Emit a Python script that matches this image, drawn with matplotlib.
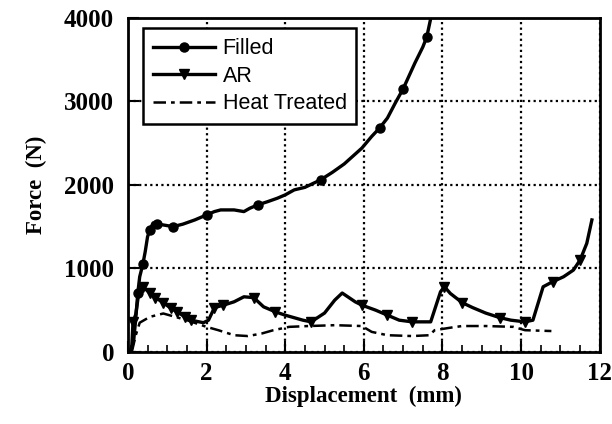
import numpy as np
import matplotlib
matplotlib.use("Agg")
import matplotlib.pyplot as plt
from matplotlib.ticker import MultipleLocator

# Filled
filled_x = [0.05, 0.10, 0.15, 0.20, 0.25, 0.30, 0.38, 0.44, 0.50, 0.56, 0.64, 0.75, 0.90, 1.15,
            1.40, 1.70, 2.00, 2.20, 2.36, 2.70, 2.95, 3.10, 3.30, 3.56, 3.80, 4.00, 4.23,
            4.50, 4.90, 5.20, 5.50, 5.95, 6.20, 6.40, 6.60, 6.80, 7.00, 7.30, 7.50, 7.60, 7.70]
filled_y = [0, 50, 150, 400, 700, 900, 1050, 1200, 1380, 1460, 1545, 1530, 1520, 1500,
            1530, 1580, 1640, 1680, 1700, 1700, 1680, 1720, 1760, 1800, 1840, 1880, 1940,
            1970, 2060, 2150, 2250, 2440, 2580, 2680, 2800, 2980, 3150, 3460, 3650, 3770, 3990]
filled_marks = [4, 6, 9, 11, 13, 16, 22, 28, 33, 36, 39]

# AR
ar_x = [0.05, 0.10, 0.13, 0.20, 0.28, 0.38, 0.56, 0.70, 0.90, 1.10, 1.25, 1.45, 1.60, 1.92, 2.05,
        2.20, 2.43, 2.70, 2.95, 3.20, 3.45, 3.75, 4.00, 4.45, 4.66, 5.00, 5.26, 5.45, 5.78,
        5.95, 6.30, 6.60, 6.90, 7.23, 7.70, 7.95, 8.05, 8.20, 8.50, 8.77, 9.10, 9.46, 9.74,
        10.10, 10.30, 10.56, 10.80, 11.08, 11.33, 11.50, 11.67, 11.80]
ar_y = [0, 80, 360, 450, 720, 780, 705, 650, 590, 520, 480, 420, 380, 350, 380,
        530, 560, 600, 660, 650, 540, 480, 440, 380, 360, 465, 620, 705, 600,
        560, 500, 440, 380, 360, 360, 720, 780, 700, 590, 530, 465, 410, 380,
        360, 380, 780, 840, 900, 980, 1100, 1300, 1580]
ar_marks = [2, 5, 6, 7, 8, 9, 10, 11, 12, 15, 16, 19, 21, 24, 29, 31, 33, 36, 38, 41, 43, 46, 49]

# Heat Treated
ht_x = [0.10, 0.20, 0.30, 0.56, 0.90, 1.20, 1.50, 2.00, 2.30, 2.70, 3.05, 3.40, 3.70, 4.10,
        4.60, 5.26, 5.95, 6.20, 6.60, 7.23, 7.67, 7.80, 8.20, 8.50, 9.10, 9.80, 10.10, 10.77]
ht_y = [0, 200, 350, 420, 460, 420, 380, 300, 260, 200, 190, 220, 260, 300,
        310, 320, 310, 240, 200, 190, 200, 260, 290, 310, 310, 300, 260, 250]

plt.rcParams['font.family'] = ['Liberation Serif', 'DejaVu Serif']

fig = plt.figure(figsize=(6.12, 4.24), dpi=100)
ax = fig.add_axes([0.209, 0.170, 0.771, 0.788])

ax.plot(filled_x, filled_y, color='black', lw=2.4, marker='o', ms=6.5,
        markevery=filled_marks, label='Filled')
ax.plot(ar_x, ar_y, color='black', lw=2.4, marker='v', ms=7.5,
        markevery=ar_marks, label='AR')
ax.plot(ht_x, ht_y, color='black', lw=1.8, dashes=(5, 2, 1.5, 2), label='Heat Treated')

ax.set_xlim(0, 12)
ax.set_ylim(0, 4000)
ax.xaxis.set_major_locator(MultipleLocator(2))
ax.xaxis.set_minor_locator(MultipleLocator(0.5))
ax.yaxis.set_major_locator(MultipleLocator(1000))
ax.grid(True, which='major', color='black', linestyle=(0, (1, 1.5)), lw=1.6)
ax.tick_params(which='major', direction='in', length=8, width=1.5, labelsize=18, pad=10)
ax.tick_params(axis='x', which='major', pad=7)
ax.tick_params(which='minor', direction='in', length=5, width=1.2)
for lab in ax.get_xticklabels() + ax.get_yticklabels():
    lab.set_fontweight('bold')
for s in ax.spines.values():
    s.set_linewidth(2)

ax.set_xlabel('Displacement  (mm)', fontsize=16.5, fontweight='bold', labelpad=1)
ax.set_ylabel('Force  (N)', fontsize=16.5, fontweight='bold', labelpad=12)

leg = ax.legend(loc='upper left', bbox_to_anchor=(0.032, 0.968), fancybox=False,
                edgecolor='black', framealpha=1, handlelength=2.9, handletextpad=0.35,
                borderpad=0.45, labelspacing=0.3, borderaxespad=0,
                prop={'family': 'Liberation Sans', 'size': 15.5})
leg.get_frame().set_linewidth(1.8)

fig.savefig('out.png', dpi=100)
